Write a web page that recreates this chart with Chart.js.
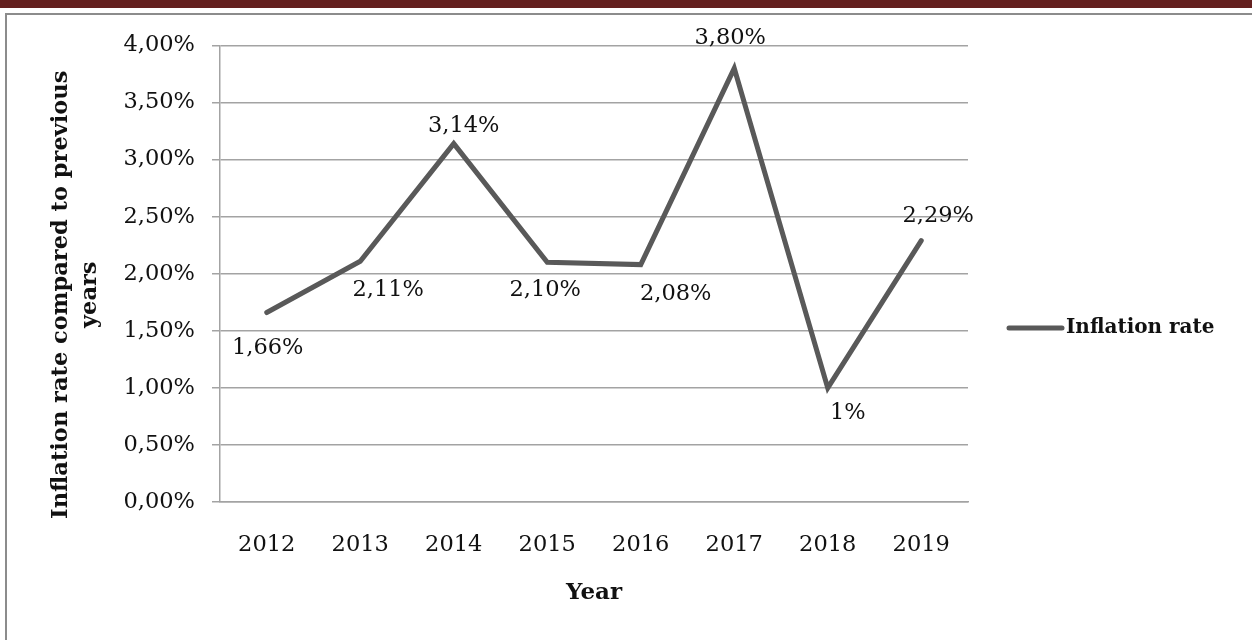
<!DOCTYPE html>
<html>
<head>
<meta charset="utf-8">
<script src="https://cdn.jsdelivr.net/npm/chart.js@4"></script>
<style>
  html, body { margin: 0; padding: 0; background: #fff; overflow: hidden; }
  #bar { position: absolute; left: 0; top: 0; width: 1252px; height: 8px; background: #64201f; }
  #frame { position: absolute; left: 5px; top: 13px; width: 1300px; height: 700px; border-left: 2px solid #8c8c8c; border-top: 2px solid #8c8c8c; }
  #chart { position: absolute; left: 7px; top: 15px; }
</style>
</head>
<body>
<div id="bar"></div>
<div id="frame"></div>
<canvas id="chart" width="1245" height="625"></canvas>
<script>
// dados do gráfico
const years = ['2012', '2013', '2014', '2015', '2016', '2017', '2018', '2019'];
const inflation = [1.66, 2.11, 3.14, 2.10, 2.08, 3.80, 1.00, 2.29];
const pointLabels = ['1,66%', '2,11%', '3,14%', '2,10%', '2,08%', '3,80%', '1%', '2,29%'];
const seriesName = 'Inflation rate';
const yTitleLines = ['Inflation rate compared to previous', 'years'];
const xTitle = 'Year';

const serif = "'DejaVu Serif', serif";
const lineColor = '#595959';
const gridColor = '#a3a3a3';

// rótulos de cada ponto (deslocamento em px a partir do ponto)
const labelOffsets = [[1, 36], [28, 29], [10, -17], [-2, 28], [35, 30], [-4, -30], [20, 25], [17, -24]];

const pointLabelPlugin = {
    id: 'pointLabels',
    afterDatasetsDraw(chart) {
        const ctx = chart.ctx;
        const meta = chart.getDatasetMeta(0);
        ctx.save();
        ctx.font = '22.5px ' + serif;
        ctx.fillStyle = '#111';
        ctx.textAlign = 'center';
        ctx.textBaseline = 'middle';
        meta.data.forEach((pt, i) => {
            ctx.fillText(pointLabels[i], pt.x + labelOffsets[i][0], pt.y + labelOffsets[i][1]);
        });
        ctx.restore();
    }
};

const yTitlePlugin = {
    id: 'yTitle',
    afterDraw(chart) {
        const ctx = chart.ctx;
        const area = chart.chartArea;
        ctx.save();
        ctx.font = 'bold 22.5px ' + serif;
        ctx.fillStyle = '#111';
        ctx.textAlign = 'center';
        ctx.textBaseline = 'middle';
        ctx.translate(54, (area.top + area.bottom) / 2 + 21);
        ctx.rotate(-Math.PI / 2);
        yTitleLines.forEach((line, i) => ctx.fillText(line, 0, i * 29));
        ctx.restore();
    }
};

const legendPlugin = {
    id: 'sideLegend',
    afterDraw(chart) {
        const ctx = chart.ctx;
        const y = 313;
        ctx.save();
        ctx.strokeStyle = lineColor;
        ctx.lineWidth = 5;
        ctx.lineCap = 'round';
        ctx.beginPath();
        ctx.moveTo(1002, y);
        ctx.lineTo(1055, y);
        ctx.stroke();
        ctx.font = 'bold 20px ' + serif;
        ctx.fillStyle = '#111';
        ctx.textBaseline = 'middle';
        ctx.fillText(chart.data.datasets[0].label, 1059, y);
        ctx.restore();
    }
};

const ctx = document.getElementById('chart').getContext('2d');
const chart = new Chart(ctx, {
    type: 'line',
    data: {
        labels: years,
        datasets: [{
            label: seriesName,
            data: inflation,
            borderColor: lineColor,
            backgroundColor: lineColor,
            borderWidth: 5,
            tension: 0,
            pointRadius: 0,
            borderJoinStyle: 'miter',
            borderCapStyle: 'round'
        }]
    },
    options: {
        responsive: false,
        animation: false,
        devicePixelRatio: 1,
        layout: { padding: { top: 28, right: 284, bottom: 0, left: 0 } },
        plugins: {
            legend: { display: false },
            tooltip: { enabled: false }
        },
        scales: {
            x: {
                offset: true,
                grid: { display: false, drawTicks: false },
                border: { display: true, color: gridColor, width: 1.5 },
                ticks: { font: { family: serif, size: 22.5 }, color: '#111', padding: 30 },
                title: { display: true, text: xTitle, font: { family: serif, size: 23, weight: 'bold' }, color: '#111', padding: { top: 0, bottom: 33 } },
                afterFit(s) { s.height = 138; }
            },
            y: {
                min: 0,
                max: 4,
                grid: { color: gridColor, lineWidth: 1.5, tickLength: 8 },
                border: { display: true, color: gridColor, width: 1.5 },
                ticks: {
                    stepSize: 0.5,
                    font: { family: serif, size: 22.5 },
                    color: '#111',
                    padding: 17,
                    callback: v => v.toFixed(2).replace('.', ',') + '%'
                },
                afterFit(s) { s.width = 213; }
            }
        }
    },
    plugins: [pointLabelPlugin, yTitlePlugin, legendPlugin]
});
</script>
</body>
</html>
